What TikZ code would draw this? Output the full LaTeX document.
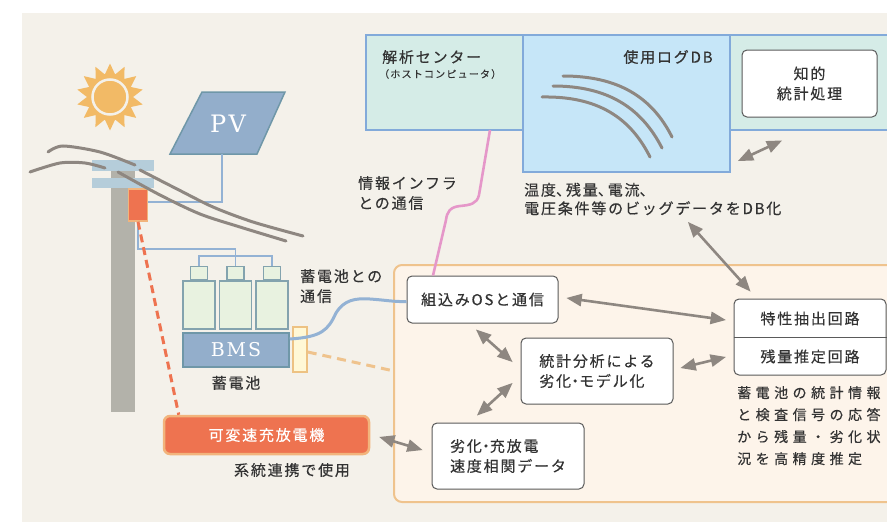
\documentclass[tikz,border=0pt]{standalone}
\usepackage{fontspec}
\setmainfont{Noto Sans CJK JP}[LetterSpace=12, FakeBold=0.4]
\newfontfamily\widefont{Noto Sans CJK JP}[LetterSpace=32, FakeBold=0.4]
\newfontfamily\slabfont{DejaVu Serif}[LetterSpace=10]
\usepackage{xcolor}
\usepackage{tikz}
\usetikzlibrary{shapes,arrows}
\usetikzlibrary{positioning}

% half-width punctuation
\newcommand{\midpt}{\makebox[8pt]{・}}
\newcommand{\tenpt}{\makebox[10pt][l]{、}}

\definecolor{paper}{HTML}{F4F1EA}
\definecolor{ink}{HTML}{333333}
\definecolor{boxline}{HTML}{5A5A5A}
\definecolor{wire}{HTML}{8E8781}
\definecolor{cablec}{HTML}{93B2D4}
\definecolor{polec}{HTML}{B3B2AA}
\definecolor{barc}{HTML}{B5CDDA}
\definecolor{orangec}{HTML}{EE7350}
\definecolor{orangeline}{HTML}{F2B47C}
\definecolor{pvc}{HTML}{93AECB}
\definecolor{pvline}{HTML}{6F97A8}
\definecolor{cellc}{HTML}{E8F2E0}
\definecolor{cellline}{HTML}{83A3AE}
\definecolor{plugc}{HTML}{FFF8D6}
\definecolor{plugline}{HTML}{EDC283}
\definecolor{peach}{HTML}{FDF4EA}
\definecolor{peachline}{HTML}{EFC38D}
\definecolor{tealc}{HTML}{D5ECE7}
\definecolor{dbc}{HTML}{C6E6F8}
\definecolor{hostline}{HTML}{82AADA}
\definecolor{pinkc}{HTML}{E597C9}
\definecolor{sunc}{HTML}{F2BA66}

\tikzstyle{block} = [rectangle, draw=boxline, fill=white, line width=1pt,
    rounded corners=5pt, inner sep=0pt, align=left]
\tikzstyle{hostbox} = [rectangle, draw=hostline, line width=2pt,
    anchor=north west, inner sep=0pt, outer sep=0pt]
\tikzstyle{note} = [inner sep=0pt, align=left]
\tikzstyle{biline} = [draw=wire, line width=2.6pt, triangle 45-triangle 45]
\tikzstyle{cable} = [draw=cablec, line width=1.6pt]
\tikzstyle{overhead} = [draw=wire, line width=3pt, line cap=round]
\tikzstyle{cell} = [rectangle, draw=cellline, fill=cellc, line width=1.5pt, inner sep=0pt]

\begin{document}
\begin{tikzpicture}[x=1pt, y=-1pt, every node/.style={text=ink, font=\fontsize{15}{20}\selectfont}]
  % Canvas
  \useasboundingbox (0,0) rectangle (887,522);
  \clip (0,0) rectangle (887,522);
  \fill[white] (0,0) rectangle (887,522);
  \fill[paper] (22,13) rectangle (887,522);

  % Sun
  \node[star, star points=14, star point ratio=1.45, fill=sunc, minimum size=67pt, inner sep=0pt] (sun) at (110,97) {};
  \node[circle, fill=sunc, draw=paper, line width=2.5pt, minimum size=35pt, inner sep=0pt] at (sun.center) {};

  % Pole
  \fill[polec] (111,171) rectangle (135,412);
  \fill[barc] (92,160) rectangle (154,171);
  \fill[barc] (92,178) rectangle (154,188);
  \node[rectangle, fill=orangec, draw=orangeline, line width=1.5pt, minimum width=19pt, minimum height=32pt, inner sep=0pt] (tap) at (138,205) {};

  % PV panel
  \draw[fill=pvc, draw=pvline, line width=1.5pt] (170,154) -- (202,92) -- (285,92) -- (257,154) -- cycle;
  \node[text=white, font=\slabfont\fontsize{24}{24}\selectfont] (pv) at (228,124) {PV};
  \coordinate (pvfoot) at (222,154);
  \coordinate (pvbend) at (222,202);
  \draw[cable] (pvfoot) -- (pvbend) -- (pvbend -| tap.east);

  % Overhead lines
  \draw[overhead] plot[smooth] coordinates {(48,152) (63,146) (100,152) (135,165)};
  \draw[overhead] plot[smooth] coordinates {(140,170) (177,189) (213,207) (253,222) (303,236)};
  \draw[overhead] plot[smooth] coordinates {(30,172) (60,163) (85,163) (105,168)};
  \draw[overhead] plot[smooth] coordinates {(118,172) (160,195) (200,214) (240,227) (286,241)};

  % Battery pack
  \foreach \x [count=\i] in {199,235.5,272} {
    \node[cell, minimum width=32pt, minimum height=48pt] (cell\i) at (\x,305) {};
    \node[cell, minimum width=17pt, minimum height=13pt, above=0pt of cell\i] (cap\i) {};
  }
  \draw[cable] (cap1.north) -- ++(0,-10) -| (cap3.north);
  \draw[cable] ([yshift=10pt]cap2.north) -- (cap2.north);
  \draw[cable] (tap.south) -- ++(0,27) -| ([yshift=10pt]cap2.north);
  \node[rectangle, fill=pvc, draw=pvline, line width=1.5pt, minimum width=106pt, minimum height=34pt, text=white, font=\slabfont\fontsize{19}{19}\selectfont] (bms) at (236,350) {BMS};
  \node[rectangle, fill=plugc, draw=plugline, line width=1.5pt, minimum width=14pt, minimum height=45pt, inner sep=0pt] (plug) at (300,349.5) {};
  \node[note, below=8pt of bms] (chikudenchi) {蓄電池};
  \node[note, anchor=north west] (bmscomm) at (300,269) {蓄電池との\\通信};

  % Charger
  \node[rectangle, fill=orangec, draw=orangeline, line width=2.5pt, rounded corners=6pt, minimum width=205pt, minimum height=38pt, text=white] (kahen) at (266.5,435) {可変速充放電機};
  \node[note] (keitou) at (292,470) {系統連携で使用};
  \draw[draw=orangec, line width=3pt, dash pattern=on 8pt off 5pt] (tap.south) -- ([xshift=16pt]kahen.north west);

  % Host side
  \node[hostbox, fill=tealc, minimum width=175pt, minimum height=95pt] (shori) at (730,35) {};
  \node[hostbox, fill=tealc, minimum width=157pt, minimum height=95pt] (kaiseki) at (366,35) {};
  \node[hostbox, fill=dbc, minimum width=207pt, minimum height=137pt] (logdb) at (523,35) {};
  \node[note, anchor=west] at (382,57) {解析センター};
  \node[note, anchor=west, font=\fontsize{10}{12}\selectfont] at (379,74) {（ホストコンピュータ）};
  \node[note] at (668,57) {使用ログDB};
  \draw[draw=wire, line width=3pt, line cap=round] (563,76) .. controls (618,76) and (652,97) .. (672,137);
  \draw[draw=wire, line width=3pt, line cap=round] (553,86) .. controls (607,86) and (641,107) .. (662,148);
  \draw[draw=wire, line width=3pt, line cap=round] (542,97) .. controls (597,96) and (630,117) .. (650,157);
  \node[block, minimum width=135pt, minimum height=67pt, align=center] (chiteki) at (809.5,83.5) {知的\\統計処理};
  \node[note, anchor=west, font=\fontsize{15}{18.5}\selectfont] (dbnote) at (524,199) {温度\tenpt 残量\tenpt 電流\tenpt\\電圧条件等のビッグデータをDB化};
  \node[note, anchor=west] (infra) at (358,193) {情報インフラ\\との通信};

  % On-board unit
  \node[rectangle, draw=peachline, fill=peach, line width=2pt, rounded corners=8pt, minimum width=510pt, minimum height=237pt, anchor=north west, inner sep=0pt, outer sep=0pt] (panel) at (394,265) {};
  \node[block, minimum width=151pt, minimum height=47pt] (kumikomi) at (482.5,299.5) {組込みOSと通信};
  \node[block, minimum width=152pt, minimum height=66pt] (tokei) at (597,371) {統計分析による\\劣化\midpt モデル化};
  \node[block, minimum width=152pt, minimum height=66pt] (soukan) at (508,456) {劣化\midpt 充放電\\速度相関データ};
  \node[block, minimum width=152pt, minimum height=76pt] (circ) at (810,337) {};
  \node[note, minimum width=152pt, align=center] (tokusei) at ([yshift=18.5pt]circ.center) {特性抽出回路};
  \node[note, minimum width=152pt, align=center] (zanryo) at ([yshift=-19.5pt]circ.center) {残量推定回路};
  \draw[draw=boxline, line width=1pt] (circ.west) -- (circ.east);
  \node[note, anchor=north west, font=\widefont\fontsize{14}{22}\selectfont] (estnote) at (737,386) {蓄電池の統計情報\\と検査信号の応答\\から残量・劣化状\\況を高精度推定};

  % Links
  \draw[draw=pinkc, line width=2.6pt] ([xshift=-33pt]kaiseki.south east) -- (479,195) .. controls (477,204) and (470,205) .. (460,206) .. controls (450,207) and (447,212) .. (446,220) -- ([xshift=-49.5pt]kumikomi.north);
  \draw[draw=cablec, line width=3pt] ([yshift=11pt]bms.east) .. controls (322,337) and (328,330) .. (336,313) .. controls (344,300) and (355,298) .. (370,299) .. controls (385,300) and (395,302) .. ([yshift=-2pt]kumikomi.west);
  \draw[draw=peachline, line width=3pt, dash pattern=on 9pt off 6pt] ([yshift=-2.5pt]plug.east) -- ([yshift=12.5pt]panel.west);

  % Data flow
  \path[biline] ([xshift=8pt,yshift=1.5pt]kumikomi.east) -- ([xshift=-8pt,yshift=-1.5pt]tokusei.west);
  \path[biline] ([xshift=-6.5pt,yshift=-6pt]kumikomi.south) -- ([xshift=-8pt,yshift=9pt]tokei.west);
  \path[biline] ([xshift=-8pt,yshift=-12pt]tokei.west) -- ([xshift=-31pt,yshift=7pt]soukan.north);
  \path[biline] ([xshift=7pt,yshift=3pt]tokei.east) -- ([xshift=-8pt,yshift=-0.5pt]zanryo.west);
  \path[biline] ([xshift=9pt,yshift=-2pt]kahen.east) -- ([xshift=-9pt,yshift=6pt]soukan.west);
  \path[biline] ([xshift=8pt,yshift=11pt]logdb.south east) -- ([xshift=-27.5pt,yshift=-23pt]chiteki.south);
  \path[biline] ([xshift=164pt,yshift=-23pt]dbnote.west) -- ([xshift=17pt,yshift=7pt]circ.north west);
\end{tikzpicture}
\end{document}
